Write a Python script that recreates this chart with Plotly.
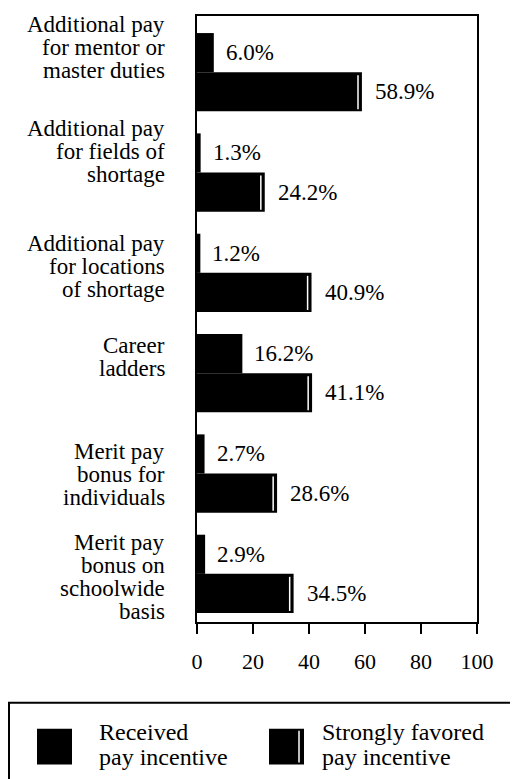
import plotly.graph_objects as go

# ---------------- data ----------------
categories = [
    "Additional pay<br>for mentor or<br>master duties",
    "Additional pay<br>for fields of<br>shortage",
    "Additional pay<br>for locations<br>of shortage",
    "Career<br>ladders",
    "Merit pay<br>bonus for<br>individuals",
    "Merit pay<br>bonus on<br>schoolwide<br>basis",
]
received = [6.0, 1.3, 1.2, 16.2, 2.7, 2.9]
favored = [58.9, 24.2, 40.9, 41.1, 28.6, 34.5]
x_ticks = [0, 20, 40, 60, 80, 100]
series_names = ["Received<br>pay incentive", "Strongly favored<br>pay incentive"]

# ---------------- layout constants ----------------
PAGE_OFF = 8                 # browser body margin around the figure
L_REF, R_REF, T_REF, B_REF = 197, 477, 14, 622   # plot-area edges in window pixels
W_FIG, H_FIG = 518 - PAGE_OFF, 779 - PAGE_OFF
PW = R_REF - L_REF
PH = B_REF - T_REF
FONT = "Liberation Serif, Times New Roman, serif"
BAR_W = 0.39
label_shift = [-25, -21, -6, -16, 1, 3]   # vertical offset of category label blocks (px)
LINE_PITCH = 23


def px(xp):
    return (xp - L_REF) / PW


def py(yp):
    return (B_REF - yp) / PH


pos = list(range(len(categories)))

fig = go.Figure()
fig.add_trace(go.Bar(
    y=pos, x=received, orientation="h", name=series_names[0],
    width=BAR_W, offset=-BAR_W, marker=dict(color="black", line=dict(width=0)),
    showlegend=False, hoverinfo="x",
))
fig.add_trace(go.Bar(
    y=pos, x=favored, orientation="h", name=series_names[1],
    width=BAR_W, offset=0, marker=dict(color="black", line=dict(width=0)),
    showlegend=False, hoverinfo="x",
))

annotations = []
shapes = []

# value labels
for i, (r, f) in enumerate(zip(received, favored)):
    annotations.append(dict(x=r, y=i - BAR_W / 2, xref="x", yref="y", text=f"{r:.1f}%",
                            showarrow=False, xanchor="left", yanchor="middle", xshift=10,
                            font=dict(family=FONT, size=23, color="black")))
    annotations.append(dict(x=f, y=i + BAR_W / 2, xref="x", yref="y", text=f"{f:.1f}%",
                            showarrow=False, xanchor="left", yanchor="middle", xshift=11,
                            font=dict(family=FONT, size=23, color="black")))
    # white highlight stripe near the end of the favored bar
    shapes.append(dict(type="line", xref="x", yref="y", x0=f - 1.4, x1=f - 1.4,
                       y0=i + 0.03, y1=i + BAR_W - 0.02,
                       line=dict(color="white", width=1.5)))

# category labels (one annotation per line for tight leading)
for i, cat in enumerate(categories):
    lines = cat.split("<br>")
    n = len(lines)
    for k, ln in enumerate(lines):
        off = label_shift[i] + (k - (n - 1) / 2) * LINE_PITCH
        annotations.append(dict(x=0, y=i, xref="paper", yref="y", text=ln, showarrow=False,
                                xanchor="right", yanchor="middle", xshift=-30, yshift=-off,
                                font=dict(family=FONT, size=23, color="black")))

# legend box
shapes.append(dict(type="rect", xref="paper", yref="paper", x0=px(9), x1=px(514),
                   y0=py(703), y1=py(800), line=dict(color="black", width=2),
                   fillcolor="rgba(0,0,0,0)"))
legend_items = [(37, 72, 97), (269, 304, 320)]
for j, (sx0, sx1, tx) in enumerate(legend_items):
    shapes.append(dict(type="rect", xref="paper", yref="paper", x0=px(sx0), x1=px(sx1),
                       y0=py(729), y1=py(765), line=dict(width=0), fillcolor="black"))
    for k, ln in enumerate(series_names[j].split("<br>")):
        annotations.append(dict(x=px(tx), y=py(732 + 25 * k), xref="paper", yref="paper",
                                text=ln, showarrow=False, xanchor="left", yanchor="middle",
                                font=dict(family=FONT, size=24, color="black")))
shapes.append(dict(type="line", xref="paper", yref="paper", x0=px(299), x1=px(299),
                   y0=py(731), y1=py(763), line=dict(color="white", width=1.5)))

fig.update_layout(
    width=W_FIG, height=H_FIG,
    margin=dict(l=L_REF - PAGE_OFF, r=518 - R_REF, t=T_REF - PAGE_OFF, b=779 - B_REF),
    paper_bgcolor="white", plot_bgcolor="white",
    barmode="overlay",
    font=dict(family=FONT, size=22, color="black"),
    annotations=annotations, shapes=shapes,
    xaxis=dict(range=[0, 100], tickvals=x_ticks, ticktext=[str(t) for t in x_ticks],
               ticks="outside", ticklen=10, tickwidth=2, tickcolor="black",
               showline=True, linewidth=2, linecolor="black", mirror=True,
               showgrid=False, zeroline=False, ticklabelstandoff=9,
               tickfont=dict(family=FONT, size=22, color="black"), fixedrange=True),
    yaxis=dict(range=[5.48, -0.56], showticklabels=False, ticks="",
               showline=True, linewidth=2, linecolor="black", mirror=True,
               showgrid=False, zeroline=False, fixedrange=True),
    showlegend=False,
)

fig.write_html("out.html")
